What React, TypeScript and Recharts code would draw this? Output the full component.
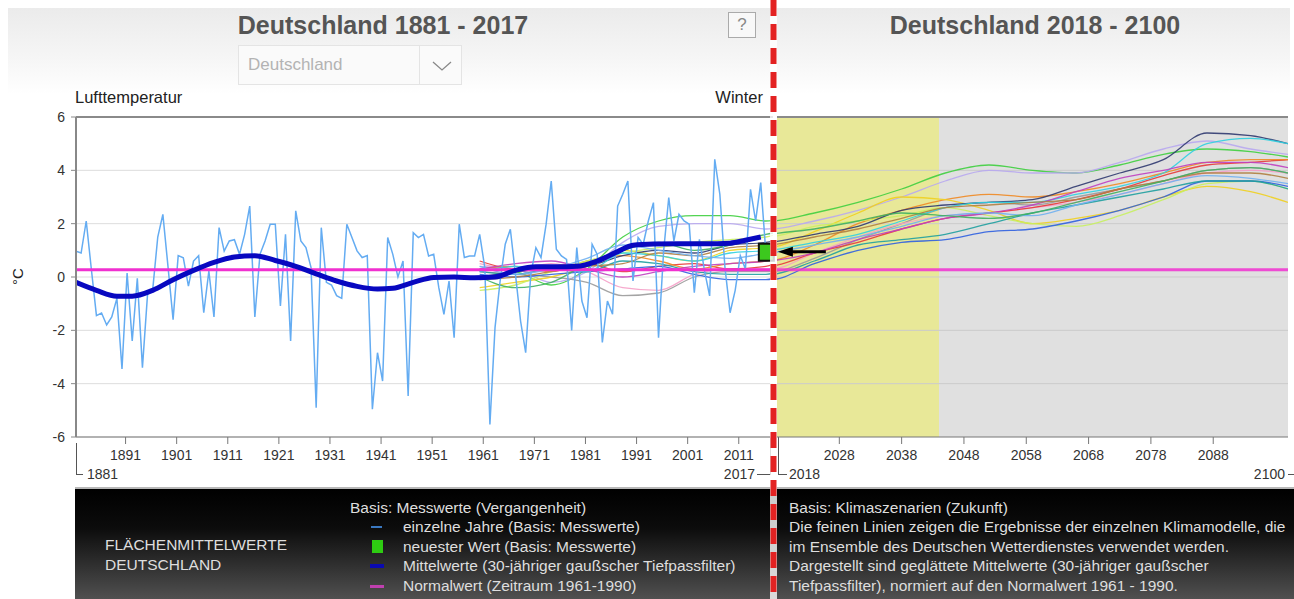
import {
  CartesianGrid,
  ComposedChart,
  Line,
  ReferenceArea,
  ReferenceDot,
  ReferenceLine,
  XAxis,
  YAxis,
} from "recharts";

const FONT = "Arial, 'Liberation Sans', sans-serif";

// Winterwerte Deutschland (°C), 1882 - 2017
const FIRST_YEAR = 1882;
const YEARLY = [
  0.97, 0.9, 2.1, 0.3, -1.45, -1.35, -1.8, -1.5, -0.8, -3.45,
  0.15, -2.4, -0.05, -3.4, -0.65, -0.5, 1.5, 2.35, 0.4, -1.6,
  0.8, 0.72, -0.34, 0.6, 0.8, -1.34, 0.22, -1.5, 1.85, 0.97,
  1.35, 1.4, 0.85, 1.6, 2.66, -1.5, 0.85, 1.35, 1.98, 1.98,
  -1.09, 1.6, -2.4, 2.48, 1.35, 1.1, 0.35, -4.9, 1.85, -0.2,
  -0.3, -0.7, -0.8, 1.98, 1.48, 0.98, 0.73, 0.8, -4.96, -2.84,
  -3.9, 1.48, 0.85, 0.0, 0.6, -4.46, 1.66, 1.48, 1.6, 0.79,
  0.85, -0.4, -1.4, -0.15, -2.28, 1.98, 0.73, 0.79, 0.79, 1.6,
  0.35, -5.53, -1.9, -0.15, 1.23, 1.79, 0.1, -1.65, -2.84, 0.1,
  1.1, 0.73, 1.98, 3.6, 1.04, 0.79, 0.66, -2.0, 1.1, -0.9,
  -1.53, 1.23, 0.85, -2.45, -0.9, -1.4, 2.66, 3.1, 3.6, -0.15,
  1.48, 1.23, 2.1, 2.79, -2.28, 0.98, 2.98, 1.35, 2.35, 2.1,
  1.98, -0.59, 1.41, 0.23, -0.71, 4.41, 3.1, 0.35, -1.34, -0.5,
  0.8, 0.3, 3.29, 2.1, 3.54, 0.91,
];

// 30-jähriger Gaußfilter
const MEAN_YEARS = [
  1882, 1886, 1890, 1893, 1897, 1901, 1905, 1909, 1913, 1917, 1921, 1925,
  1929, 1933, 1937, 1941, 1944, 1948, 1952, 1956, 1960, 1964, 1968, 1972,
  1976, 1980, 1984, 1988, 1991, 1995, 2000, 2005, 2010, 2013, 2016,
];
const MEAN_VALUES = [
  -0.2, -0.5, -0.72, -0.72, -0.5, -0.1, 0.25, 0.55, 0.75, 0.8, 0.62, 0.4,
  0.12, -0.15, -0.35, -0.45, -0.42, -0.2, -0.02, 0.0, -0.03, 0.0, 0.25, 0.38,
  0.38, 0.4, 0.6, 0.95, 1.19, 1.24, 1.25, 1.25, 1.27, 1.38, 1.5,
];

// Normalwert 1961 - 1990
const NORMAL = 0.27;

// Klimamodelle (geglättet, normiert)
const MODEL_YEARS = [
  1961, 1968, 1975, 1982, 1989, 1996, 2003, 2010, 2017,
  2024, 2031, 2038, 2045, 2052, 2059, 2066, 2073, 2080, 2087, 2094, 2100,
];
const MODEL_COLORS = [
  "#3fcf3f", "#b8a8f0", "#9a9a9a", "#f5a0c8", "#e8383a", "#f08a24",
  "#f0d020", "#c8f060", "#3060e0", "#20a0a0", "#303a70", "#30d0e0",
  "#c040c0", "#b08040", "#70b0f0", "#40b060",
];
const MODEL_VALUES = [
  [0.3, 0.2, -0.3, 0.3, 1.5, 2.1, 2.3, 2.3, 2.1, 2.4, 2.8, 3.3, 3.9, 4.2, 4.0, 3.9, 4.2, 4.6, 4.8, 4.7, 4.5],
  [0.4, 0.3, -0.2, 0.2, 1.3, 1.9, 2.0, 2.0, 1.8, 2.1, 2.5, 3.0, 3.6, 4.0, 3.9, 3.9, 4.3, 4.8, 5.1, 4.8, 4.6],
  [0.2, 0.1, 0.0, -0.2, -0.7, -0.6, 0.0, 0.2, 0.2, 0.7, 1.4, 2.0, 2.6, 2.8, 2.7, 3.0, 3.3, 3.6, 4.0, 4.1, 3.9],
  [0.5, 0.3, 0.5, 0.2, -0.4, -0.5, 0.1, 0.3, 0.3, 0.9, 1.5, 2.0, 2.3, 2.4, 2.6, 2.8, 3.1, 3.5, 3.9, 4.0, 3.9],
  [0.6, 0.3, 0.4, 0.5, 0.2, 0.4, 0.5, 0.3, 0.4, 0.9, 1.3, 1.8, 2.2, 2.4, 2.6, 2.9, 3.3, 3.8, 4.2, 4.3, 4.4],
  [0.3, 0.4, 0.2, 0.6, 0.8, 0.6, 0.3, 0.5, 0.6, 1.2, 2.0, 2.5, 2.9, 3.1, 3.0, 3.2, 3.5, 3.9, 4.3, 4.4, 4.4],
  [-0.4, -0.2, 0.0, 0.4, 1.0, 0.8, 0.6, 1.0, 1.1, 1.7, 2.4, 3.0, 2.9, 2.5, 2.0, 2.2, 2.5, 3.0, 3.4, 3.2, 2.8],
  [-0.5, -0.3, 0.2, 0.6, 0.9, 1.1, 1.3, 1.4, 1.5, 1.9, 2.1, 2.3, 2.6, 2.3, 2.0, 1.9, 2.3, 2.9, 3.5, 3.6, 3.3],
  [0.1, 0.0, 0.1, 0.2, 0.3, 0.4, 0.1, -0.1, -0.1, 0.5, 1.0, 1.3, 1.4, 1.7, 1.8, 2.1, 2.5, 3.0, 3.6, 3.6, 3.4],
  [0.2, 0.1, 0.3, 0.2, 0.6, 0.5, 0.2, 0.1, 0.1, 0.6, 1.2, 1.4, 1.6, 2.0, 2.4, 2.7, 3.0, 3.3, 3.6, 3.6, 3.3],
  [0.0, 0.2, 0.3, 0.4, 0.8, 1.0, 0.9, 1.2, 1.3, 1.6, 1.9, 2.5, 2.7, 2.8, 2.9, 3.4, 3.9, 4.4, 5.4, 5.3, 5.0],
  [0.2, 0.4, 0.3, 0.2, 0.9, 0.8, 0.6, 0.9, 1.0, 1.3, 1.6, 2.1, 2.6, 2.8, 2.8, 3.1, 3.4, 3.9, 5.0, 5.2, 5.0],
  [0.3, 0.5, 0.6, 0.3, 0.0, 0.2, 0.4, 0.5, 0.6, 0.9, 1.4, 1.8, 2.2, 2.4, 2.7, 3.2, 3.7, 4.0, 4.3, 4.3, 4.1],
  [-0.1, 0.0, 0.2, 0.4, 0.5, 0.9, 0.8, 1.1, 1.2, 1.5, 1.8, 2.2, 2.6, 2.7, 2.8, 2.9, 3.3, 3.6, 3.9, 3.9, 3.7],
  [0.4, 0.1, 0.3, 0.7, 1.2, 1.0, 0.8, 0.7, 0.9, 1.2, 1.5, 1.9, 2.3, 2.4, 2.3, 2.7, 3.1, 3.5, 3.8, 3.7, 3.5],
  [0.0, -0.4, -0.2, 0.5, 1.0, 1.3, 1.0, 1.2, 1.6, 1.8, 2.1, 2.4, 2.3, 2.2, 2.4, 2.8, 3.2, 3.6, 4.0, 4.1, 3.9],
];

const LEFT_TICK_YEARS = [1891, 1901, 1911, 1921, 1931, 1941, 1951, 1961, 1971, 1981, 1991, 2001, 2011];
const RIGHT_TICK_YEARS = [2028, 2038, 2048, 2058, 2068, 2078, 2088];
const Y_TICKS = [-6, -4, -2, 0, 2, 4, 6];
const GRID_VALUES = [-4, -2, 0, 2, 4];
// Jahresstriche sitzen etwas rechts der Winterwerte
const TICK_SHIFT = 0.7;
const BASE_PERIOD_END = 2044;

const rowMap = new Map<number, Record<string, number>>();
function put(year: number, key: string, v: number) {
  const r = rowMap.get(year) ?? { year };
  r[key] = v;
  rowMap.set(year, r);
}
YEARLY.forEach((v, i) => put(FIRST_YEAR + i, "jahr", v));
MEAN_YEARS.forEach((y, i) => put(y, "mittel", MEAN_VALUES[i]));
MODEL_VALUES.forEach((vals, m) =>
  MODEL_YEARS.forEach((y, i) => put(y, "m" + m, vals[i]))
);
put(FIRST_YEAR, "normal", NORMAL);
put(2100, "normal", NORMAL);
const DATA = [...rowMap.values()].sort((a, b) => a.year - b.year);

const LATEST_YEAR = FIRST_YEAR + YEARLY.length - 1;
const LATEST = YEARLY[YEARLY.length - 1];

const TICK_STYLE = { fontSize: 14, fill: "#333", fontFamily: FONT };

function LatestMarker(props: any) {
  const { cx, cy } = props;
  return (
    <g>
      <rect x={cx - 7} y={cy - 9} width={15} height={17} fill="#3cc81e" stroke="#111" strokeWidth={2} />
      <line x1={cx + 24} y1={cy - 1} x2={cx + 60} y2={cy - 1} stroke="#000" strokeWidth={3} />
      <polygon points={`${cx + 12},${cy - 1} ${cx + 27},${cy - 6} ${cx + 27},${cy + 4}`} fill="#000" />
    </g>
  );
}

function modelLines() {
  return MODEL_COLORS.map((c, m) => (
    <Line
      key={m}
      type="monotone"
      dataKey={"m" + m}
      stroke={c}
      strokeWidth={1.3}
      strokeOpacity={0.9}
      dot={false}
      connectNulls
      isAnimationActive={false}
    />
  ));
}

function PastChart() {
  return (
    <ComposedChart width={830} height={599} data={DATA} margin={{ top: 117, right: 57, bottom: 0, left: 0 }}>
      <CartesianGrid vertical={false} stroke="#dddddd" />
      <XAxis
        type="number"
        dataKey="year"
        domain={[1882, 2018.4]}
        allowDataOverflow
        ticks={LEFT_TICK_YEARS.map((t) => t + TICK_SHIFT)}
        tickFormatter={(v) => String(Math.round(v - TICK_SHIFT))}
        interval={0}
        height={162}
        tickSize={7}
        tickMargin={6}
        axisLine={{ stroke: "#777" }}
        tickLine={{ stroke: "#777" }}
        tick={TICK_STYLE}
      />
      <YAxis
        type="number"
        domain={[-6, 6]}
        allowDataOverflow
        ticks={Y_TICKS}
        interval={0}
        width={76}
        tickSize={5}
        tickMargin={6}
        axisLine={{ stroke: "#888", strokeWidth: 2 }}
        tickLine={{ stroke: "#888" }}
        tick={TICK_STYLE}
      />
      <ReferenceLine y={6} stroke="#8a8a8a" strokeWidth={2} />
      {modelLines()}
      <Line type="linear" dataKey="jahr" stroke="#64acf2" strokeWidth={1.5} dot={false} connectNulls isAnimationActive={false} />
      <Line type="linear" dataKey="normal" stroke="#f030d0" strokeWidth={3} dot={false} connectNulls isAnimationActive={false} />
      <Line type="monotone" dataKey="mittel" stroke="#0808c0" strokeWidth={5} dot={false} connectNulls isAnimationActive={false} />
      <ReferenceDot x={LATEST_YEAR} y={LATEST} ifOverflow="visible" shape={LatestMarker} />
    </ComposedChart>
  );
}

function FutureChart() {
  return (
    <ComposedChart width={517} height={599} data={DATA} margin={{ top: 117, right: 6, bottom: 0, left: 0 }}>
      <ReferenceArea x1={2018} x2={BASE_PERIOD_END} fill="#e8e898" fillOpacity={1} stroke="none" />
      <ReferenceArea x1={BASE_PERIOD_END} x2={2100} fill="#e0e0e0" fillOpacity={1} stroke="none" />
      {GRID_VALUES.map((g) => (
        <ReferenceLine key={g} y={g} stroke="#cbcbcb" strokeWidth={1} />
      ))}
      <XAxis
        type="number"
        dataKey="year"
        domain={[2018, 2100]}
        allowDataOverflow
        ticks={RIGHT_TICK_YEARS}
        interval={0}
        height={162}
        tickSize={7}
        tickMargin={6}
        axisLine={{ stroke: "#777" }}
        tickLine={{ stroke: "#777" }}
        tick={TICK_STYLE}
      />
      <YAxis type="number" domain={[-6, 6]} allowDataOverflow ticks={Y_TICKS} hide width={0} />
      <ReferenceLine y={6} stroke="#8a8a8a" strokeWidth={2} />
      {modelLines()}
      <Line type="linear" dataKey="normal" stroke="#f030d0" strokeWidth={3} strokeOpacity={0.85} dot={false} connectNulls isAnimationActive={false} />
    </ComposedChart>
  );
}

function Txt({ x, y, children, size = 13, color = "#222", align = "left", bold = false, w }: any) {
  const style: React.CSSProperties = {
    position: "absolute",
    top: y - size * 0.6,
    fontSize: size,
    lineHeight: `${size * 1.2}px`,
    color,
    fontWeight: bold ? "bold" : "normal",
    whiteSpace: "nowrap",
  };
  if (align === "left") style.left = x;
  else if (align === "right") style.right = 1294 - x;
  else {
    style.left = x - (w ?? 400) / 2;
    style.width = w ?? 400;
    style.textAlign = "center";
  }
  return <div style={style}>{children}</div>;
}

function Bar({ x, y, w, h, c }: any) {
  return <div style={{ position: "absolute", left: x, top: y, width: w, height: h, background: c }} />;
}

export default function App() {
  const legendText = "#dedede";
  const ls = 15.5;
  return (
    <div
      style={{
        position: "absolute",
        left: 0,
        top: 0,
        width: 1294,
        height: 599,
        background: "#fff",
        overflow: "hidden",
        fontFamily: FONT,
      }}
    >
      {/* Kopfbereich */}
      <div
        style={{
          position: "absolute",
          left: 8,
          top: 8,
          width: 1282,
          height: 86,
          background: "linear-gradient(#ebebeb, #f6f6f6 60%, #ffffff)",
        }}
      />
      <Txt x={383} y={25} size={25} bold color="#555" align="center">
        Deutschland 1881 - 2017
      </Txt>
      <Txt x={1035} y={25} size={25} bold color="#555" align="center">
        Deutschland 2018 - 2100
      </Txt>
      <div
        style={{
          position: "absolute",
          left: 728,
          top: 12,
          width: 26,
          height: 24,
          border: "1px solid #aaa",
          background: "#f8f8f8",
          color: "#888",
          fontSize: 17,
          lineHeight: "24px",
          textAlign: "center",
        }}
      >
        ?
      </div>
      <div
        style={{
          position: "absolute",
          left: 238,
          top: 45,
          width: 222,
          height: 38,
          border: "1px solid #e4e4e4",
          background: "#fafafa",
        }}
      >
        <div style={{ position: "absolute", left: 9, top: 9, fontSize: 17, color: "#b3b3b3" }}>Deutschland</div>
        <div style={{ position: "absolute", left: 180, top: 0, width: 1, height: 38, background: "#e4e4e4" }} />
        <svg style={{ position: "absolute", left: 192, top: 14 }} width={24} height={12}>
          <polyline points="2,2 11,10 20,2" fill="none" stroke="#888" strokeWidth={1.3} />
        </svg>
      </div>
      <Txt x={75} y={98} size={16.5}>Lufttemperatur</Txt>
      <Txt x={763} y={98} size={16.5} align="right">Winter</Txt>
      <div
        style={{
          position: "absolute",
          left: 9,
          top: 268,
          fontSize: 15,
          color: "#222",
          transform: "rotate(-90deg)",
        }}
      >
        °C
      </div>

      {/* Diagramme */}
      <div style={{ position: "absolute", left: 777, top: 0, zIndex: 1 }}>
        <FutureChart />
      </div>
      <div style={{ position: "absolute", left: 0, top: 0, zIndex: 2 }}>
        <PastChart />
      </div>

      {/* untere Jahresmarken */}
      <div style={{ position: "absolute", left: 76, top: 443, width: 6, height: 31, borderLeft: "1px solid #555", borderBottom: "1px solid #555" }} />
      <Txt x={87} y={474} size={14} color="#333">1881</Txt>
      <div style={{ position: "absolute", left: 757, top: 437, width: 13, height: 37, borderRight: "1px solid #555", borderBottom: "1px solid #555" }} />
      <Txt x={755} y={474} size={14} color="#333" align="right">2017</Txt>
      <div style={{ position: "absolute", left: 778, top: 437, width: 8, height: 37, borderLeft: "1px solid #555", borderBottom: "1px solid #555" }} />
      <Txt x={789} y={474} size={14} color="#333">2018</Txt>
      <Txt x={1285} y={474} size={14} color="#333" align="right">2100</Txt>
      <Bar x={1288} y={474} w={6} h={1} c="#555" />

      {/* Legende */}
      <div
        style={{
          position: "absolute",
          left: 75,
          top: 487,
          width: 1219,
          height: 112,
          borderTop: "2px solid #b8b8b8",
          background: "linear-gradient(#000000, #0c0c0c 35%, #525252)",
          zIndex: 3,
        }}
      />
      <div style={{ position: "absolute", left: 0, top: 0, zIndex: 4 }}>
        <Txt x={105} y={545} size={ls} color={legendText}>FLÄCHENMITTELWERTE</Txt>
        <Txt x={105} y={565} size={ls} color={legendText}>DEUTSCHLAND</Txt>
        <Txt x={350} y={508} size={ls} color={legendText}>Basis: Messwerte (Vergangenheit)</Txt>
        <Bar x={371} y={526} w={11} h={2} c="#3a78c0" />
        <Txt x={403} y={527} size={ls} color={legendText}>einzelne Jahre (Basis: Messwerte)</Txt>
        <Bar x={372} y={540} w={11} h={13} c="#2ecc12" />
        <Txt x={403} y={547} size={ls} color={legendText}>neuester Wert (Basis: Messwerte)</Txt>
        <Bar x={370} y={564} w={14} h={4} c="#0a0ab0" />
        <Txt x={403} y={566} size={ls} color={legendText}>Mittelwerte (30-jähriger gaußscher Tiefpassfilter)</Txt>
        <Bar x={370} y={585} w={14} h={3} c="#c040b0" />
        <Txt x={403} y={586} size={ls} color={legendText}>Normalwert (Zeitraum 1961-1990)</Txt>

        <Txt x={789} y={508} size={ls} color={legendText}>Basis: Klimaszenarien (Zukunft)</Txt>
        <Txt x={789} y={527} size={ls} color={legendText}>Die feinen Linien zeigen die Ergebnisse der einzelnen Klimamodelle, die</Txt>
        <Txt x={789} y={547} size={ls} color={legendText}>im Ensemble des Deutschen Wetterdienstes verwendet werden.</Txt>
        <Txt x={789} y={566} size={ls} color={legendText}>Dargestellt sind geglättete Mittelwerte (30-jähriger gaußscher</Txt>
        <Txt x={789} y={586} size={ls} color={legendText}>Tiefpassfilter), normiert auf den Normalwert 1961 - 1990.</Txt>
      </div>

      {/* Trennlinie Vergangenheit / Zukunft */}
      <svg style={{ position: "absolute", left: 768, top: 0, zIndex: 5 }} width={10} height={599}>
        <rect x={2} y={0} width={7} height={599} fill="#fff" fillOpacity={0.8} />
        <line x1={5.5} y1={0} x2={5.5} y2={599} stroke="#e32222" strokeWidth={6} strokeDasharray="16 8" />
      </svg>
    </div>
  );
}
